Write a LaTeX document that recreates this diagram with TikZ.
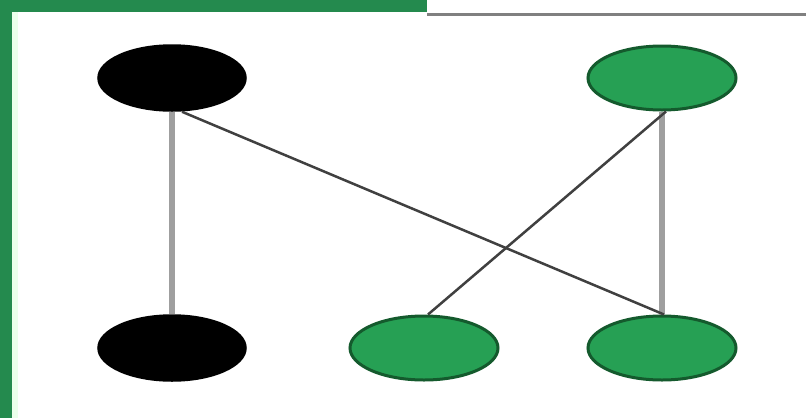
\documentclass[tikz,border=0pt]{standalone}
\usetikzlibrary{shapes.geometric}
\definecolor{gfill}{RGB}{38,160,84}
\definecolor{gline}{RGB}{20,90,45}
\definecolor{gbar}{RGB}{36,138,78}
\tikzset{
  vblack/.style={ellipse,fill=black,draw=black,line width=1.5pt,minimum width=148pt,minimum height=66pt},
  vgreen/.style={ellipse,fill=gfill,draw=gline,line width=3pt,minimum width=148pt,minimum height=64pt},
  thickedge/.style={draw=gray!75,line width=6pt},
  thinedge/.style={draw=black!75,line width=2.5pt}
}
\begin{document}
\begin{tikzpicture}[x=1pt,y=-1pt]
        \useasboundingbox (0,0) rectangle (806,418);
        \fill[white] (0,0) rectangle (806,418);
        \fill[gbar] (0,0) rectangle (12,418); %左の帯
        \fill[gbar] (0,0) rectangle (427,12); %上の帯
        \fill[green!8] (12,12) rectangle (18,418);
        \fill[gray] (427,13) rectangle (806,16);
        \node[vblack] (a) at (172,78) {};
        \node[vgreen] (b) at (662,78) {};
        \node[vblack] (c) at (172,348) {};
        \node[vgreen] (d) at (424,348) {};
        \node[vgreen] (e) at (662,348) {};
        \draw[thickedge] (a.south) -- (c.north);
        \draw[thickedge] (b.south) -- (e.north);
        \draw[thinedge] ([xshift=10pt]a.south) -- ([xshift=2pt]e.north);
        \draw[thinedge] ([xshift=4pt]b.south) -- ([xshift=4pt]d.north);
    \end{tikzpicture}
\end{document}
